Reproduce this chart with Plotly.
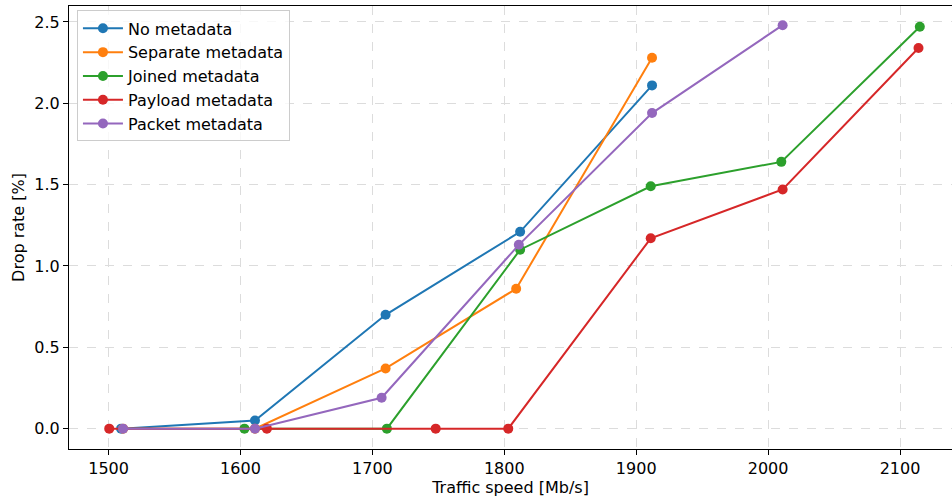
import plotly.graph_objects as go

series_names = ["No metadata", "Separate metadata", "Joined metadata", "Payload metadata", "Packet metadata"]
colors = ["#1f77b4", "#ff7f0e", "#2ca02c", "#d62728", "#9467bd"]

no_x = [1509.5, 1611, 1710, 1812, 1912]
no_y = [0.0, 0.05, 0.70, 1.21, 2.11]

sep_x = [1511, 1611, 1710, 1809, 1912]
sep_y = [0.0, 0.0, 0.37, 0.86, 2.28]

joined_x = [1603, 1711, 1812, 1911, 2010, 2115]
joined_y = [0.0, 0.0, 1.10, 1.49, 1.64, 2.47]

payload_x = [1500.5, 1620, 1748, 1803, 1911, 2011, 2114]
payload_y = [0.0, 0.0, 0.0, 0.0, 1.17, 1.47, 2.34]

packet_x = [1511, 1611, 1707, 1811, 1912, 2011]
packet_y = [0.0, 0.0, 0.19, 1.13, 1.94, 2.48]

x_ticks = [1500, 1600, 1700, 1800, 1900, 2000, 2100]
y_ticks = [0.0, 0.5, 1.0, 1.5, 2.0, 2.5]
y_tick_labels = ["0.0", "0.5", "1.0", "1.5", "2.0", "2.5"]

data = [(no_x, no_y), (sep_x, sep_y), (joined_x, joined_y), (payload_x, payload_y), (packet_x, packet_y)]

fig = go.Figure()
for name, color, (xs, ys) in zip(series_names, colors, data):
    fig.add_trace(go.Scatter(
        x=xs, y=ys, name=name, mode="lines+markers",
        line=dict(color=color, width=2),
        marker=dict(color=color, size=10),
    ))

font_family = "DejaVu Sans"
fig.update_layout(
    width=952, height=499,
    margin=dict(l=69, r=0, t=6, b=50),
    paper_bgcolor="white", plot_bgcolor="white",
    font=dict(family=font_family, size=16, color="black"),
    showlegend=True,
    legend=dict(
        x=0.009, y=0.99, xanchor="left", yanchor="top",
        bgcolor="rgba(255,255,255,0.8)", bordercolor="#cccccc", borderwidth=1,
        font=dict(family=font_family, size=16, color="black"),
        tracegroupgap=0, itemwidth=40,
    ),
)
fig.update_xaxes(
    range=[1470, 2139.4],
    tickvals=x_ticks, ticktext=[str(v) for v in x_ticks],
    ticks="outside", ticklen=5, tickwidth=1, tickcolor="black",
    showline=True, linecolor="black", linewidth=1, mirror=True,
    showgrid=True, gridcolor="#dcdcdc", griddash="dash", gridwidth=1,
    zeroline=False,
    title=dict(text="Traffic speed [Mb/s]", standoff=2, font=dict(size=16)),
    tickfont=dict(size=16),
)
fig.update_yaxes(
    range=[-0.125, 2.598],
    tickvals=y_ticks, ticktext=y_tick_labels,
    ticks="outside", ticklen=5, tickwidth=1, tickcolor="black",
    showline=True, linecolor="black", linewidth=1,
    showgrid=True, gridcolor="#dcdcdc", griddash="dash", gridwidth=1,
    zeroline=False,
    title=dict(text="Drop rate [%]", standoff=5, font=dict(size=16)),
    tickfont=dict(size=16),
)

fig.write_html("out.html", config={"displayModeBar": False},
               post_script="document.body.style.margin='0';document.body.style.padding='0';")
